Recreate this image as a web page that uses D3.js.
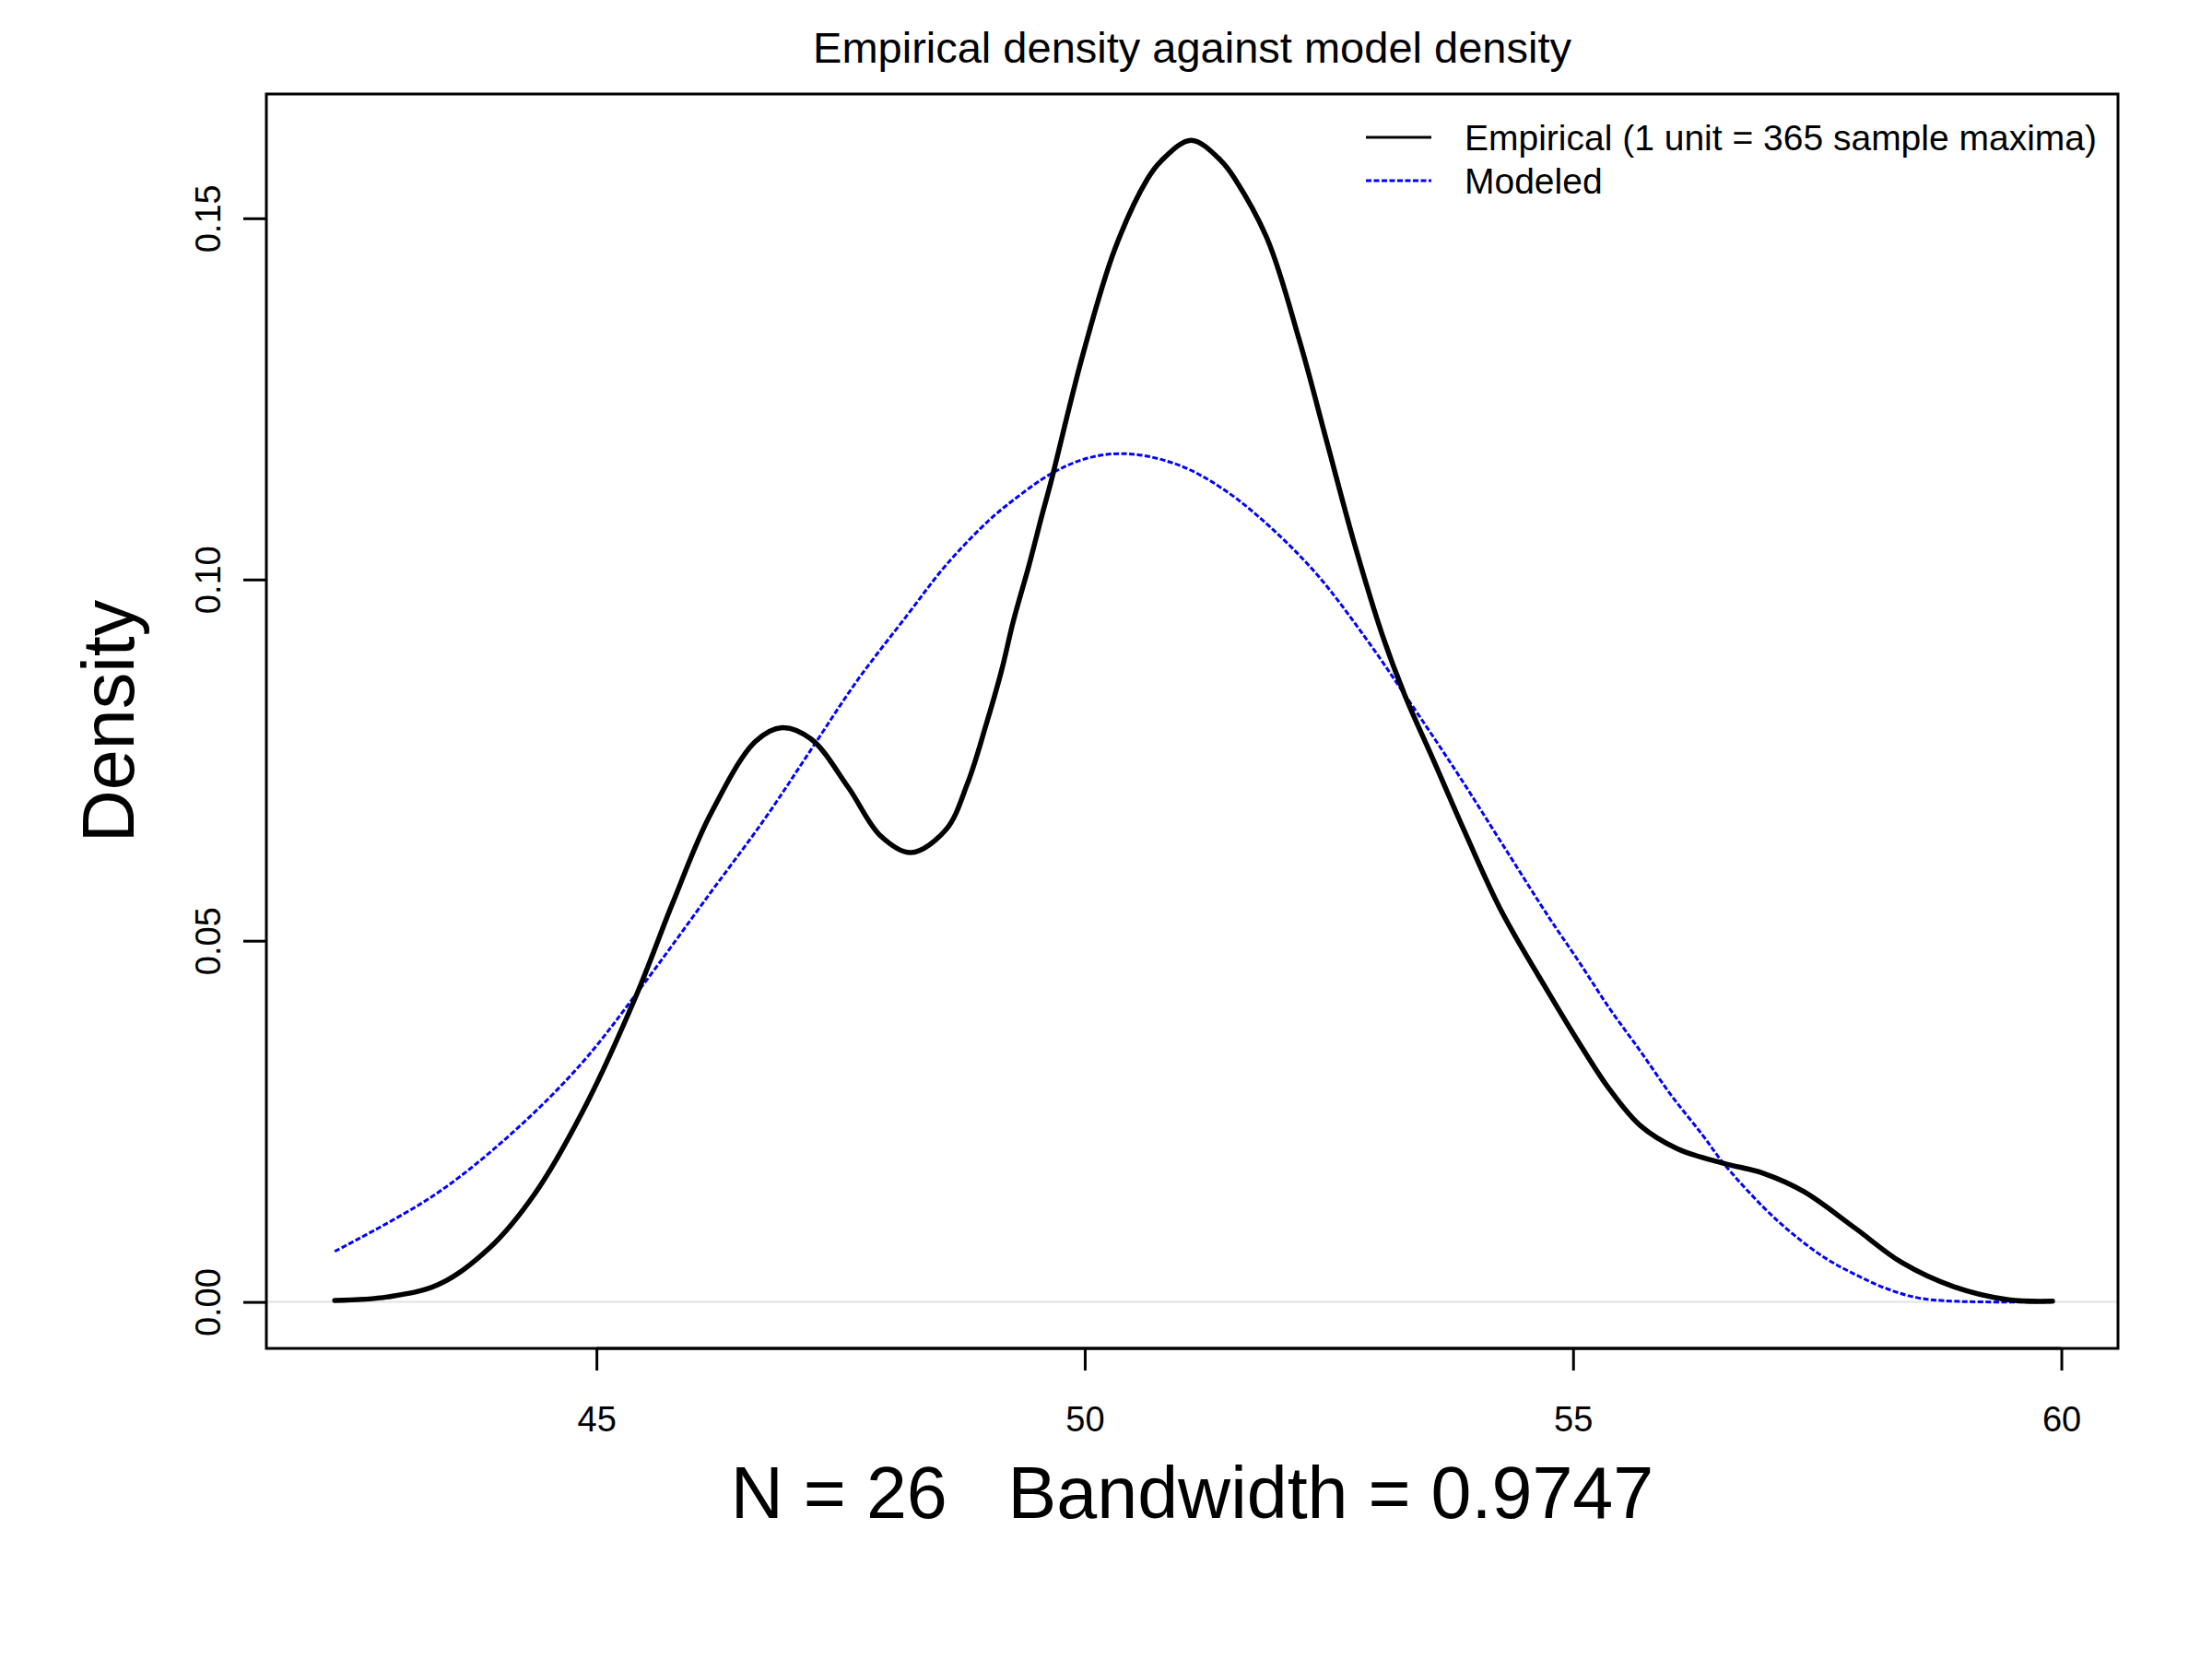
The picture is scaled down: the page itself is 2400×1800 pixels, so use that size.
<!DOCTYPE html>
<html>
<head>
<meta charset="utf-8">
<script src="https://cdn.jsdelivr.net/npm/d3@7"></script>
<style>
  body { margin: 0; background: #fff; }
  text { font-family: "Liberation Sans", Arial, Helvetica, sans-serif; fill: #000; }
</style>
</head>
<body>
<div id="chart"></div>
<script>
// values (x = annual maximum, y = density)
const empiricalX = [42.32, 42.86, 43.38, 43.90, 44.37, 44.89, 45.41, 45.78, 46.16, 46.63,
  46.90, 47.20, 47.58, 47.91, 48.22, 48.58, 48.80, 48.99, 49.15, 49.27,
  49.43, 49.56, 49.65, 49.98, 50.31, 50.64, 50.78, 51.09, 51.40, 51.54,
  51.87, 52.20, 52.48, 52.76, 53.05, 53.28, 53.57, 53.90, 54.27, 54.75,
  55.06, 55.37, 55.69, 56.07, 56.54, 56.95, 57.36, 57.89, 58.36, 58.90,
  59.46, 59.91];
const empiricalY = [0.0002, 0.0007, 0.0024, 0.0074, 0.0150, 0.0272, 0.0425, 0.0552, 0.0673, 0.0776,
  0.0795, 0.0779, 0.0712, 0.0645, 0.0622, 0.0654, 0.0718, 0.0799, 0.0875, 0.0943,
  0.1020, 0.1088, 0.1133, 0.1311, 0.1458, 0.1554, 0.1579, 0.1608, 0.1579, 0.1554,
  0.1471, 0.1330, 0.1190, 0.1050, 0.0922, 0.0839, 0.0750, 0.0648, 0.0540, 0.0428,
  0.0359, 0.0295, 0.0244, 0.0212, 0.0192, 0.0178, 0.0153, 0.0102, 0.0055, 0.0021,
  0.0003, 0.0001];

const modeledX = [42.32, 43.33, 44.13, 44.84, 45.45, 46.16, 46.73, 47.20, 47.67, 48.19,
  48.58, 49.02, 49.27, 49.65, 50.03, 50.45, 50.97, 51.44, 51.92, 52.39,
  52.86, 53.28, 53.80, 54.27, 54.75, 55.06, 55.37, 55.69, 56.00, 56.32,
  56.54, 56.95, 57.26, 57.58, 57.89, 58.20, 58.52, 58.90, 59.91];
const modeledY = [0.0070, 0.0147, 0.0233, 0.0329, 0.0434, 0.0565, 0.0670, 0.0765, 0.0860, 0.0952,
  0.1020, 0.1082, 0.1110, 0.1146, 0.1168, 0.1174, 0.1158, 0.1123, 0.1070, 0.1005,
  0.0922, 0.0840, 0.0735, 0.0635, 0.0533, 0.0471, 0.0407, 0.0347, 0.0287, 0.0232,
  0.0192, 0.0131, 0.0093, 0.0061, 0.0038, 0.0019, 0.0006, 0.0001, 0.0000];

const xTicks = [45, 50, 55, 60];
const yTicks = [0, 0.05, 0.10, 0.15];
const titleText = "Empirical density against model density";
const xLabel = "N = 26   Bandwidth = 0.9747";
const yLabel = "Density";
const legendLabels = ["Empirical (1 unit = 365 sample maxima)", "Modeled"];

const width = 2400, height = 1800;
const box = { left: 289, right: 2298, top: 102, bottom: 1463 };
const cx = (box.left + box.right) / 2;

const svg = d3.select("#chart").append("svg")
  .attr("width", width)
  .attr("height", height)
  .style("background", "#fff");

const x = d3.scaleLinear().domain([41.62, 60.58]).range([box.left, box.right]);
const y = d3.scaleLinear().domain([-0.00643, 0.1672]).range([box.bottom, box.top]);

// clip so the lines stay inside the box
svg.append("clipPath").attr("id", "plot-clip")
  .append("rect")
  .attr("x", box.left).attr("y", box.top)
  .attr("width", box.right - box.left).attr("height", box.bottom - box.top);

const plot = svg.append("g").attr("clip-path", "url(#plot-clip)");

// zero line like plot.density
plot.append("line")
  .attr("x1", box.left).attr("x2", box.right)
  .attr("y1", y(0)).attr("y2", y(0))
  .attr("stroke", "#e2e2e2")
  .attr("stroke-width", 2);

const line = d3.line()
  .x(d => x(d[0]))
  .y(d => y(d[1]))
  .curve(d3.curveCatmullRom.alpha(0.5));

const empirical = empiricalX.map((v, i) => [v, empiricalY[i]]);
const modeled = modeledX.map((v, i) => [v, modeledY[i]]);

plot.append("path")
  .datum(modeled)
  .attr("d", line)
  .attr("fill", "none")
  .attr("stroke", "#0000ff")
  .attr("stroke-width", 3)
  .attr("stroke-dasharray", "6,2.5");

plot.append("path")
  .datum(empirical)
  .attr("d", line)
  .attr("fill", "none")
  .attr("stroke", "#000")
  .attr("stroke-width", 5.5)
  .attr("stroke-linecap", "round")
  .attr("stroke-linejoin", "round");

// axes
const xAxis = d3.axisBottom(x).tickValues(xTicks).tickSize(24).tickFormat(d3.format("d"));
const gx = svg.append("g")
  .attr("transform", `translate(0, ${box.bottom})`)
  .call(xAxis);
gx.select(".domain").remove();
gx.selectAll(".tick line").attr("stroke-width", 3);
gx.selectAll(".tick text")
  .attr("y", 90)
  .attr("dy", 0)
  .style("font-size", "38px")
  .style("font-family", "'Liberation Sans', Arial, sans-serif");

const yAxis = d3.axisLeft(y).tickValues(yTicks).tickSize(25).tickFormat(d3.format(".2f"));
const gy = svg.append("g")
  .attr("transform", `translate(${box.left}, 0)`)
  .call(yAxis);
gy.select(".domain").remove();
gy.selectAll(".tick line").attr("stroke-width", 3);
gy.selectAll(".tick text")
  .attr("x", null)
  .attr("dy", 0)
  .attr("text-anchor", "middle")
  .attr("transform", "translate(-50, 0) rotate(-90)")
  .style("font-size", "38px")
  .style("font-family", "'Liberation Sans', Arial, sans-serif");

// axis line from first to last tick
svg.append("line")
  .attr("x1", x(xTicks[0])).attr("x2", x(xTicks[xTicks.length - 1]))
  .attr("y1", box.bottom).attr("y2", box.bottom)
  .attr("stroke", "#000").attr("stroke-width", 3);

// box
svg.append("rect")
  .attr("x", box.left).attr("y", box.top)
  .attr("width", box.right - box.left).attr("height", box.bottom - box.top)
  .attr("fill", "none")
  .attr("stroke", "#000")
  .attr("stroke-width", 3);

// titles
svg.append("text")
  .attr("x", cx).attr("y", 68)
  .attr("text-anchor", "middle")
  .style("font-size", "47px")
  .text(titleText);

svg.append("text")
  .attr("x", cx).attr("y", 1647)
  .attr("text-anchor", "middle")
  .style("font-size", "79px")
  .style("white-space", "pre")
  .text(xLabel);

svg.append("text")
  .attr("transform", `translate(145, ${(box.top + box.bottom) / 2}) rotate(-90)`)
  .attr("text-anchor", "middle")
  .style("font-size", "79px")
  .text(yLabel);

// legend
const legendStyles = [
  { color: "#000", dash: null },
  { color: "#0000ff", dash: "6,2.5" }
];
const legend = svg.append("g");
legendLabels.forEach((label, i) => {
  const ly = 149 + i * 47;
  legend.append("line")
    .attr("x1", 1482).attr("x2", 1553)
    .attr("y1", ly).attr("y2", ly)
    .attr("stroke", legendStyles[i].color)
    .attr("stroke-width", 3)
    .attr("stroke-dasharray", legendStyles[i].dash);
  legend.append("text")
    .attr("x", 1589).attr("y", ly)
    .attr("dy", "0.36em")
    .style("font-size", "39px")
    .text(label);
});
</script>
</body>
</html>
